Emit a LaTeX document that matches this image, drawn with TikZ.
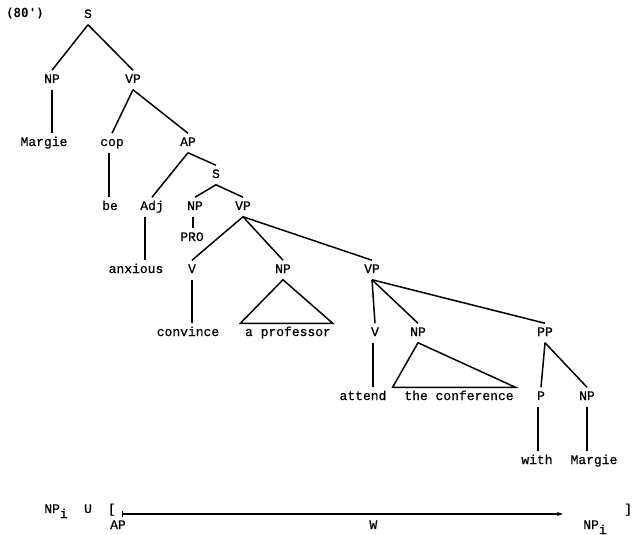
\documentclass[tikz,border=0pt]{standalone}
\usepackage{fontspec}
\setmonofont{Liberation Mono}
\newfontface\treefont[FakeBold=0.7]{Liberation Mono}
\newfontfamily\numfont{DejaVu Sans Mono}
\usetikzlibrary{arrows.meta,calc}

\begin{document}
\begin{tikzpicture}[x=1pt,y=-1pt,line width=1.5pt,
    every node/.style={font=\treefont\fontsize{13}{15}\selectfont,
      inner xsep=1pt,inner ysep=4pt,text height=8pt,text depth=2pt}]
\useasboundingbox (0,0) rectangle (633,535);
% tree labels
\node[font=\numfont\bfseries\fontsize{12.5}{14}\selectfont] (ex) at (25,15) {(80')};
\node (s) at (88,15) {S};
\node (np) at (52,80) {NP};
\node (vp) at (133,80) {VP};
\node (margie) at (44,143) {Margie};
\node (cop) at (112,143) {cop};
\node (ap) at (188,143) {AP};
\node (s2) at (216,175) {S};
\node (be) at (110,207) {be};
\node (adj) at (152,207) {Adj};
\node (np2) at (195,207) {NP};
\node (vp2) at (243,207) {VP};
\node (pro) at (192,238) {PRO};
\node (anxious) at (136,270) {anxious};
\node (v) at (192,270) {V};
\node (np3) at (283,270) {NP};
\node (vp3) at (372,270) {VP};
\node (convince) at (188,333) {convince};
\node (aprof) at (288,333) {a professor};
\node (v2) at (375,333) {V};
\node (np4) at (418,333) {NP};
\node (pp) at (545,333) {PP};
\node (attend) at (363,397) {attend};
\node (conf) at (459,397) {the conference};
\node (p) at (541,397) {P};
\node (np5) at (587,397) {NP};
\node (with) at (537,461) {with};
\node (margie2) at (594,461) {Margie};
% branches
\foreach \a/\b in {s/np,s/vp,vp/cop,vp/ap,ap/adj,ap/s2,
    s2/np2,s2/vp2,vp2/v,vp2/np3,vp2/vp3,vp3/v2,vp3/np4,vp3/pp,pp/p,pp/np5}
  \draw (\a.south) -- (\b.north);
% unary branches, straight down
\foreach \a/\b/\d in {np/margie/0,cop/be/-3,np2/pro/-2,adj/anxious/-7,v/convince/0,
    v2/attend/-2,p/with/-3,np5/margie2/0}
  \draw ([xshift=\d]\a.south) -- ([xshift=\d]\a.south |- \b.north);
\draw (np3.south) -- ([xshift=-3]aprof.north west) -- (aprof.north east) -- cycle;
\draw (np4.south) -- ([xshift=-10]conf.north west) -- (conf.north east) -- cycle;
% factorisation line
\node (npi) at (56,510) {NP\raisebox{-5pt}{i}};
\node (u) at (88,510) {U};
\node (lbr) at (112,510) {[};
\node (rbr) at (628,510) {]};
\coordinate (wstart) at (122,514);
\coordinate (wend) at (563,514);
\draw[line width=1.4pt,{Bar[width=6pt]}-{Stealth[length=6pt,width=4pt]}] (wstart) -- (wend);
\node (apl) at (118,526) {AP};
\node (w) at ($(wstart)!0.57!(wend)+(0,12)$) {W};
\node (npi2) at (595,526) {NP\raisebox{-5pt}{i}};
\end{tikzpicture}
\end{document}
